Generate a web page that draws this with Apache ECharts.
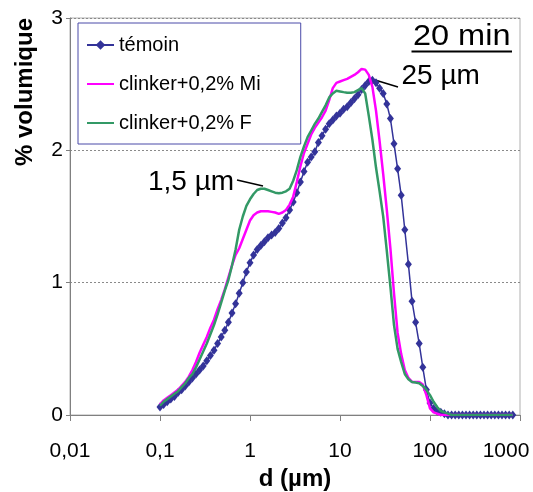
<!DOCTYPE html>
<html><head><meta charset="utf-8">
<script src="https://cdn.jsdelivr.net/npm/echarts@6/dist/echarts.min.js"></script>
<style>html,body{margin:0;padding:0;background:#fff}#c{width:533px;height:492px}</style>
</head><body><div id="c"></div>
<script>
// particle diameters (µm)
const diameters = [
  0.1,0.1096,0.1202,0.1318,0.1445,0.1585,0.1738,0.1905,0.2089,0.2291,0.2512,0.2754,0.302,0.3311,0.3631,0.3981,0.4365,0.4786,0.5248,0.5754,0.631,0.6918,0.7586,0.8318,0.912,
  1,1.096,1.202,1.318,1.445,1.585,1.738,1.905,2.089,2.291,2.512,2.754,3.02,3.311,3.631,3.981,4.365,4.786,5.248,5.754,6.31,6.918,7.586,8.318,9.12,
  10,10.96,12.02,13.18,14.45,15.85,17.38,19.05,20.89,22.91,25.12,27.54,30.2,33.11,36.31,39.81,43.65,47.86,52.48,57.54,63.1,69.18,75.86,83.18,91.2,
  100,109.6,120.2,131.8,144.5,158.5,173.8,190.5,208.9,229.1,251.2,275.4,302,331.1,363.1,398.1,436.5,478.6,524.8,575.4,631,691.8,758.6,831.8
];
const temoin = [
  0.06,0.08,0.10,0.12,0.14,0.17,0.19,0.22,0.25,0.28,
  0.31,0.34,0.37,0.41,0.45,0.49,0.54,0.59,0.64,0.70,
  0.77,0.84,0.92,1.00,1.08,1.15,1.21,1.25,1.28,1.31,
  1.34,1.36,1.38,1.41,1.45,1.49,1.55,1.61,1.68,1.76,
  1.84,1.91,1.95,1.99,2.06,2.11,2.16,2.20,2.23,2.26,
  2.28,2.31,2.33,2.36,2.39,2.42,2.46,2.49,2.52,2.53,
  2.51,2.47,2.43,2.35,2.24,2.05,1.86,1.66,1.40,1.14,
  0.86,0.70,0.54,0.36,0.19,0.09,0.05,0.03,0.02,0.01,
  0,0,0,0,0,0,0,0,0,0,
  0,0,0,0,0,0,0,0,0
];
const clinkerMi = [
  0.08,0.11,0.13,0.15,0.17,0.19,0.22,0.25,0.29,0.34,
  0.40,0.47,0.53,0.59,0.66,0.72,0.80,0.87,0.95,1.04,
  1.13,1.21,1.26,1.33,1.40,1.47,1.51,1.53,1.54,1.54,
  1.54,1.535,1.53,1.52,1.53,1.55,1.59,1.65,1.76,1.88,
  1.98,2.05,2.12,2.17,2.21,2.25,2.30,2.38,2.47,2.51,
  2.52,2.53,2.54,2.555,2.57,2.59,2.615,2.61,2.57,2.48,
  2.30,2.07,1.82,1.55,1.26,0.92,0.62,0.46,0.34,0.28,
  0.25,0.25,0.25,0.23,0.15,0.05,0.02,0.01,0,0,
  0,0,0,0,0,0,0,0,0,0,
  0,0,0,0,0,0,0,0,0
];
const clinkerF = [
  0.07,0.10,0.12,0.14,0.16,0.18,0.21,0.24,0.28,0.31,
  0.36,0.42,0.48,0.54,0.61,0.68,0.76,0.85,0.94,1.02,
  1.13,1.25,1.40,1.50,1.58,1.63,1.67,1.70,1.71,1.71,
  1.70,1.69,1.68,1.675,1.68,1.69,1.71,1.77,1.85,1.95,
  2.03,2.10,2.15,2.20,2.24,2.29,2.34,2.40,2.43,2.45,
  2.445,2.44,2.435,2.435,2.44,2.455,2.47,2.43,2.26,2.08,
  1.87,1.69,1.50,1.24,0.97,0.68,0.50,0.40,0.31,0.27,
  0.25,0.245,0.24,0.22,0.19,0.15,0.10,0.06,0.03,0.02,
  0.01,0,0,0,0,0,0,0,0,0,
  0,0,0,0,0,0,0,0,0
];
const seriesNames = ['témoin','clinker+0,2% Mi','clinker+0,2% F'];
const xTickValues = [0.01,0.1,1,10,100,1000];
const xTickLabels = ['0,01','0,1','1','10','100','1000'];
const yTickLabels = ['0','1','2','3'];

const FONT = '"Liberation Sans", Arial, sans-serif';
const pairs = arr => diameters.map((d,i)=>[d, arr[i]]);

const chart = echarts.init(document.getElementById('c'), null, {renderer:'canvas'});
chart.setOption({
  animation:false,
  backgroundColor:'#fff',
  grid:{left:70,right:13,top:18,bottom:77,show:true,borderColor:'#b0b0b0',borderWidth:1,backgroundColor:'#fff',
        containLabel:false,outerBoundsMode:'none'},
  legend:{
    left:78, top:23, orient:'vertical',
    padding:[12,40,11,8], itemGap:19, itemWidth:27, itemHeight:12,
    backgroundColor:'#fff', borderColor:'#4a4aa8', borderWidth:1,
    textStyle:{fontSize:20,color:'#000',fontFamily:FONT},
    data:[
      {name:seriesNames[0]},
      {name:seriesNames[1], itemStyle:{opacity:0}},
      {name:seriesNames[2], itemStyle:{opacity:0}}
    ]
  },
  xAxis:{
    type:'log', logBase:10, min:0.01, max:1000,
    name:'d (µm)', nameLocation:'middle', nameGap:49,
    nameTextStyle:{fontSize:24,fontWeight:'bold',color:'#000',fontFamily:FONT},
    axisLine:{lineStyle:{color:'#808080',width:1}},
    axisTick:{show:true,length:6,lineStyle:{color:'#808080'}},
    axisLabel:{margin:26,fontSize:21,color:'#000',fontFamily:FONT,
      rich:{last:{fontSize:21,color:'#000',fontFamily:FONT,padding:[0,28,0,0]}},
      formatter:v=>{
        const i=xTickValues.findIndex(t=>Math.abs(Math.log10(t)-Math.log10(v))<1e-6);
        if(i<0) return '';
        return i===xTickValues.length-1 ? '{last|'+xTickLabels[i]+'}' : xTickLabels[i];
      }},
    splitLine:{show:false}, minorTick:{show:false}
  },
  yAxis:{
    type:'value', min:0, max:3, interval:1,
    axisLine:{show:true,lineStyle:{color:'#808080',width:1}},
    axisTick:{show:true,length:4,lineStyle:{color:'#808080'}},
    axisLabel:{margin:7,fontSize:21,color:'#000',fontFamily:FONT,formatter:v=>yTickLabels[Math.round(v)]},
    splitLine:{show:true,lineStyle:{color:'#8a8a8a',type:[2,2],width:1}}
  },
  series:[
    {name:seriesNames[0],type:'line',data:pairs(temoin),symbol:'diamond',symbolSize:[7,9],
     showSymbol:true,itemStyle:{color:'#333399'},lineStyle:{color:'#333399',width:1.5},z:2},
    {name:seriesNames[1],type:'line',data:pairs(clinkerMi),symbol:'none',
     itemStyle:{color:'#ff00ff'},lineStyle:{color:'#ff00ff',width:2.5},z:3},
    {name:seriesNames[2],type:'line',data:pairs(clinkerF),symbol:'none',
     itemStyle:{color:'#339966'},lineStyle:{color:'#339966',width:2.5},z:4}
  ],
  graphic:[
    {type:'text',x:25,y:92,rotation:Math.PI/2,
     style:{text:'% volumique',font:'bold 24px '+FONT,fill:'#000',textAlign:'center',textVerticalAlign:'middle',align:'center',verticalAlign:'middle'}},
    {type:'text',x:461.7,y:37,scaleX:1.12,
     style:{text:'20 min',font:'29px '+FONT,fill:'#000',textAlign:'center',textVerticalAlign:'middle',align:'center',verticalAlign:'middle'}},
    {type:'line',shape:{x1:411.5,y1:51.5,x2:512,y2:51.5},style:{stroke:'#000',lineWidth:2}},
    {type:'text',x:148,y:182,
     style:{text:'1,5 µm',font:'28px '+FONT,fill:'#000',textAlign:'left',textVerticalAlign:'middle',align:'left',verticalAlign:'middle'}},
    {type:'line',shape:{x1:237,y1:180,x2:263,y2:186},style:{stroke:'#000',lineWidth:1.5}},
    {type:'text',x:401.5,y:76,
     style:{text:'25 µm',font:'28px '+FONT,fill:'#000',textAlign:'left',textVerticalAlign:'middle',align:'left',verticalAlign:'middle'}},
    {type:'line',shape:{x1:375,y1:80,x2:398,y2:87},style:{stroke:'#000',lineWidth:1.5}}
  ]
});
</script></body></html>
